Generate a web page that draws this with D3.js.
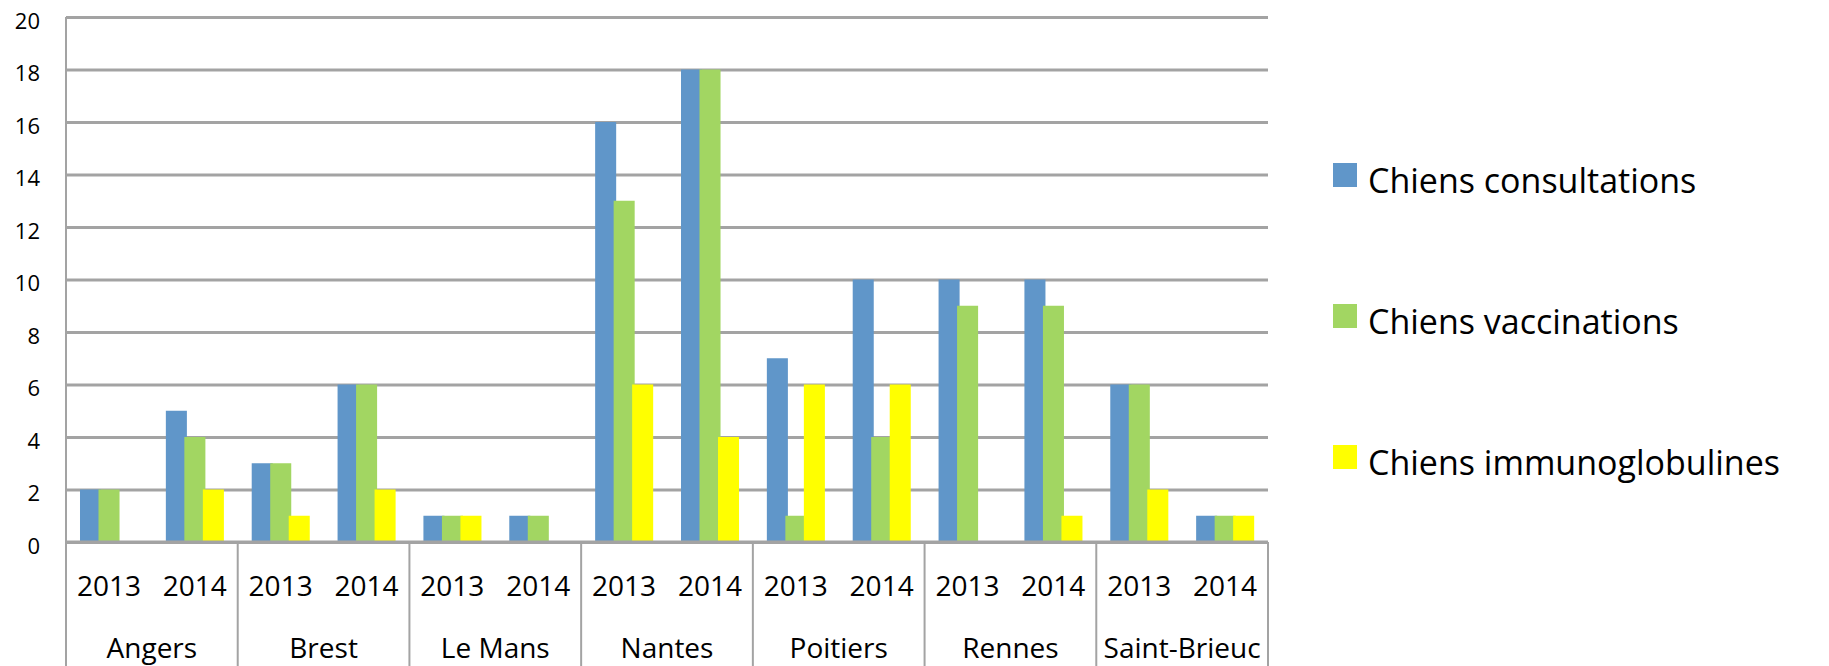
<!DOCTYPE html>
<html>
<head>
<meta charset="utf-8">
<script src="https://cdn.jsdelivr.net/npm/d3@7"></script>
<style>
  body { margin: 0; background: #fff; }
  text { font-family: "Open Sans", sans-serif; fill: #000; }
</style>
</head>
<body>
<script>
// data
var cities = ['Angers', 'Brest', 'Le Mans', 'Nantes', 'Poitiers', 'Rennes', 'Saint-Brieuc'];
var years = ['2013', '2014'];
var seriesNames = ['Chiens consultations', 'Chiens vaccinations', 'Chiens immunoglobulines'];
var seriesColors = ['#6096c9', '#a2d662', '#ffff00'];

// one value per city/year, in order Angers 2013, Angers 2014, Brest 2013 ...
var consultations = [2, 5, 3, 6, 1, 1, 16, 18, 7, 10, 10, 10, 6, 1];
var vaccinations  = [2, 4, 3, 6, 1, 1, 13, 18, 1, 4, 9, 9, 6, 1];
var immuno        = [0, 2, 1, 2, 1, 0, 6, 4, 6, 6, 0, 1, 2, 1];
var yTicks = [0, 2, 4, 6, 8, 10, 12, 14, 16, 18, 20];

var W = 1829, H = 666;
var plotL = 66, plotR = 1268, plotT = 17, plotB = 542;

var svg = d3.select("body").append("svg")
    .attr("width", W)
    .attr("height", H);

svg.append("rect").attr("width", W).attr("height", H).attr("fill", "#fff");

// categories = every city x year
var cats = [];
cities.forEach(function(c) {
  years.forEach(function(yr) { cats.push(c + "|" + yr); });
});

var x0 = d3.scaleBand().domain(cats).range([plotL, plotR]).padding(0);
var bw = x0.bandwidth();
var barW = bw * 0.245;
var x1 = d3.scalePoint()
    .domain(seriesNames)
    .range([bw * 0.163, bw * 0.163 + 2 * bw * 0.2155]);

var y = d3.scaleLinear().domain([0, 20]).range([plotB, plotT]);

// gridlines + y labels
var yAxis = svg.append("g")
    .attr("transform", "translate(" + plotL + ",0)")
    .call(d3.axisLeft(y).tickValues(yTicks).tickSize(-(plotR - plotL)).tickPadding(26));
yAxis.select(".domain").remove();
yAxis.selectAll(".tick line").attr("stroke", "#a3a3a3").attr("stroke-width", 3);
yAxis.selectAll(".tick text")
    .attr("font-size", "22px")
    .attr("font-family", "Open Sans, sans-serif")
    .attr("fill", "#000")
    .attr("dy", "0.5em");

// y axis line
svg.append("line")
    .attr("x1", plotL).attr("x2", plotL)
    .attr("y1", plotT).attr("y2", H)
    .attr("stroke", "#a3a3a3").attr("stroke-width", 2);

// bars
var allSeries = [consultations, vaccinations, immuno];
allSeries.forEach(function(vals, s) {
  svg.append("g").selectAll("rect")
    .data(vals)
    .enter().append("rect")
    .attr("x", function(d, i) { return x0(cats[i]) + x1(seriesNames[s]); })
    .attr("y", function(d) { return y(d); })
    .attr("width", barW)
    .attr("height", function(d) { return y(0) - y(d); })
    .attr("fill", seriesColors[s]);
});

// x axis line
svg.append("line")
    .attr("x1", plotL).attr("x2", plotR)
    .attr("y1", y(0)).attr("y2", y(0))
    .attr("stroke", "#a3a3a3").attr("stroke-width", 3);

// city dividers
var dividers = d3.range(1, cities.length + 1).map(function(k) {
  return k < cities.length ? x0(cats[k * 2]) : plotR;
});
svg.append("g").selectAll("line")
    .data(dividers)
    .enter().append("line")
    .attr("x1", function(d) { return d; })
    .attr("x2", function(d) { return d; })
    .attr("y1", y(0))
    .attr("y2", H)
    .attr("stroke", "#a3a3a3").attr("stroke-width", 2);

// year labels
svg.append("g").selectAll("text")
    .data(cats)
    .enter().append("text")
    .attr("x", function(d) { return x0(d) + bw / 2; })
    .attr("y", 596)
    .attr("text-anchor", "middle")
    .attr("font-size", "28px")
    .text(function(d) { return d.split("|")[1]; });

// city labels
svg.append("g").selectAll("text")
    .data(cities)
    .enter().append("text")
    .attr("x", function(d, i) { return x0(cats[i * 2]) + bw; })
    .attr("y", 658)
    .attr("text-anchor", "middle")
    .attr("font-size", "28px")
    .text(function(d) { return d; });

// legend
var legend = svg.append("g").selectAll("g")
    .data(seriesNames)
    .enter().append("g")
    .attr("transform", function(d, i) { return "translate(1333," + (163 + i * 141) + ")"; });

legend.append("rect")
    .attr("width", 24)
    .attr("height", 24)
    .attr("fill", function(d, i) { return seriesColors[i]; });

legend.append("text")
    .attr("x", 35)
    .attr("y", 30)
    .attr("font-size", "34px")
    .text(function(d) { return d; });
</script>
</body>
</html>
